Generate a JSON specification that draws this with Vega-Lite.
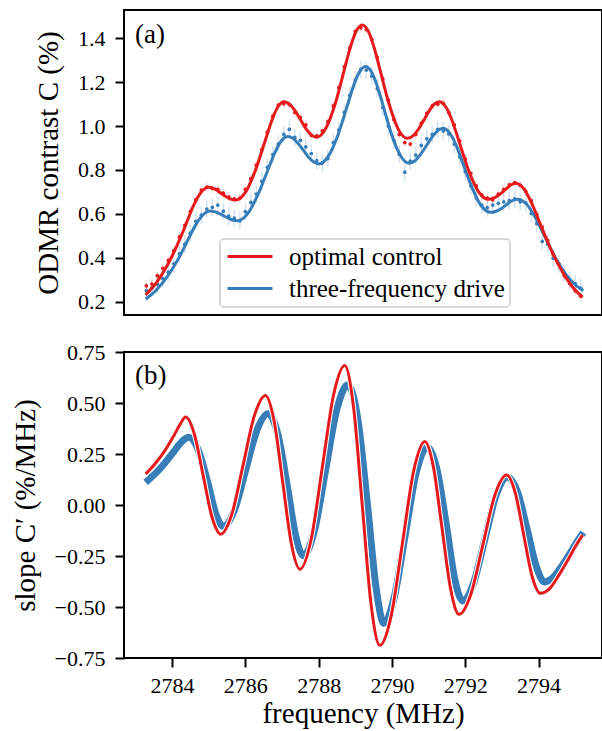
{
  "$schema": "https://vega.github.io/schema/vega-lite/v6.json",
  "padding": {"left": 10, "top": 9, "right": 1, "bottom": 0},
  "spacing": 24,
  "config": {
    "view": {"stroke": "black", "strokeWidth": 2},
    "axis": {"domain": false, "grid": false, "labelFont": "Liberation Serif", "labelFontSize": 22, "labelColor": "black", "titleFont": "Liberation Serif", "titleFontSize": 29, "titleFontWeight": "normal", "titleColor": "black", "tickColor": "black", "tickWidth": 2, "tickSize": 9, "labelPadding": 10},
    "legend": {"labelFont": "Liberation Serif", "labelFontSize": 25, "labelColor": "black", "strokeWidth": 1.5, "labelLimit": 0}
  },
  "datasets": {
    "fit": [
      {"f":2783.28,"C":0.231,"series":"optimal control"},{"f":2783.58,"C":0.288,"series":"optimal control"},{"f":2783.88,"C":0.368,"series":"optimal control"},{"f":2784.18,"C":0.472,"series":"optimal control"},{"f":2784.37,"C":0.548,"series":"optimal control"},{"f":2784.58,"C":0.635,"series":"optimal control"},{"f":2784.79,"C":0.698,"series":"optimal control"},{"f":2785.00,"C":0.721,"series":"optimal control"},{"f":2785.11,"C":0.7175,"series":"optimal control"},{"f":2785.22,"C":0.708,"series":"optimal control"},{"f":2785.33,"C":0.695,"series":"optimal control"},{"f":2785.47,"C":0.679,"series":"optimal control"},{"f":2785.60,"C":0.667,"series":"optimal control"},{"f":2785.74,"C":0.663,"series":"optimal control"},{"f":2786.01,"C":0.700,"series":"optimal control"},{"f":2786.28,"C":0.8005,"series":"optimal control"},{"f":2786.55,"C":0.938,"series":"optimal control"},{"f":2786.72,"C":1.0245,"series":"optimal control"},{"f":2786.89,"C":1.088,"series":"optimal control"},{"f":2787.06,"C":1.111,"series":"optimal control"},{"f":2787.20,"C":1.1005,"series":"optimal control"},{"f":2787.35,"C":1.072,"series":"optimal control"},{"f":2787.49,"C":1.033,"series":"optimal control"},{"f":2787.64,"C":0.991,"series":"optimal control"},{"f":2787.80,"C":0.960,"series":"optimal control"},{"f":2787.95,"C":0.949,"series":"optimal control"},{"f":2788.20,"C":0.991,"series":"optimal control"},{"f":2788.46,"C":1.106,"series":"optimal control"},{"f":2788.71,"C":1.263,"series":"optimal control"},{"f":2788.87,"C":1.362,"series":"optimal control"},{"f":2789.03,"C":1.4345,"series":"optimal control"},{"f":2789.19,"C":1.461,"series":"optimal control"},{"f":2789.35,"C":1.434,"series":"optimal control"},{"f":2789.51,"C":1.360,"series":"optimal control"},{"f":2789.67,"C":1.259,"series":"optimal control"},{"f":2789.92,"C":1.1015,"series":"optimal control"},{"f":2790.17,"C":0.986,"series":"optimal control"},{"f":2790.42,"C":0.944,"series":"optimal control"},{"f":2790.58,"C":0.956,"series":"optimal control"},{"f":2790.74,"C":0.990,"series":"optimal control"},{"f":2790.90,"C":1.036,"series":"optimal control"},{"f":2791.03,"C":1.0735,"series":"optimal control"},{"f":2791.16,"C":1.101,"series":"optimal control"},{"f":2791.29,"C":1.111,"series":"optimal control"},{"f":2791.47,"C":1.087,"series":"optimal control"},{"f":2791.65,"C":1.021,"series":"optimal control"},{"f":2791.83,"C":0.930,"series":"optimal control"},{"f":2792.09,"C":0.798,"series":"optimal control"},{"f":2792.36,"C":0.701,"series":"optimal control"},{"f":2792.62,"C":0.666,"series":"optimal control"},{"f":2792.79,"C":0.673,"series":"optimal control"},{"f":2792.96,"C":0.691,"series":"optimal control"},{"f":2793.13,"C":0.716,"series":"optimal control"},{"f":2793.21,"C":0.7275,"series":"optimal control"},{"f":2793.29,"C":0.736,"series":"optimal control"},{"f":2793.37,"C":0.739,"series":"optimal control"},{"f":2793.60,"C":0.714,"series":"optimal control"},{"f":2793.82,"C":0.645,"series":"optimal control"},{"f":2794.05,"C":0.5515,"series":"optimal control"},{"f":2794.35,"C":0.433,"series":"optimal control"},{"f":2794.65,"C":0.336,"series":"optimal control"},{"f":2794.95,"C":0.262,"series":"optimal control"},{"f":2795.20,"C":0.220,"series":"optimal control"},
      {"f":2783.28,"C":0.211,"series":"three-frequency drive"},{"f":2783.58,"C":0.254,"series":"three-frequency drive"},{"f":2783.88,"C":0.316,"series":"three-frequency drive"},{"f":2784.18,"C":0.397,"series":"three-frequency drive"},{"f":2784.46,"C":0.490,"series":"three-frequency drive"},{"f":2784.65,"C":0.551,"series":"three-frequency drive"},{"f":2784.85,"C":0.596,"series":"three-frequency drive"},{"f":2785.04,"C":0.613,"series":"three-frequency drive"},{"f":2785.16,"C":0.610,"series":"three-frequency drive"},{"f":2785.28,"C":0.602,"series":"three-frequency drive"},{"f":2785.40,"C":0.592,"series":"three-frequency drive"},{"f":2785.53,"C":0.581,"series":"three-frequency drive"},{"f":2785.65,"C":0.572,"series":"three-frequency drive"},{"f":2785.78,"C":0.569,"series":"three-frequency drive"},{"f":2786.06,"C":0.600,"series":"three-frequency drive"},{"f":2786.34,"C":0.686,"series":"three-frequency drive"},{"f":2786.62,"C":0.802,"series":"three-frequency drive"},{"f":2786.80,"C":0.877,"series":"three-frequency drive"},{"f":2786.98,"C":0.932,"series":"three-frequency drive"},{"f":2787.16,"C":0.952,"series":"three-frequency drive"},{"f":2787.30,"C":0.944,"series":"three-frequency drive"},{"f":2787.44,"C":0.921,"series":"three-frequency drive"},{"f":2787.58,"C":0.8905,"series":"three-frequency drive"},{"f":2787.72,"C":0.859,"series":"three-frequency drive"},{"f":2787.87,"C":0.836,"series":"three-frequency drive"},{"f":2788.01,"C":0.8275,"series":"three-frequency drive"},{"f":2788.27,"C":0.8645,"series":"three-frequency drive"},{"f":2788.54,"C":0.9655,"series":"three-frequency drive"},{"f":2788.80,"C":1.103,"series":"three-frequency drive"},{"f":2788.96,"C":1.187,"series":"three-frequency drive"},{"f":2789.12,"C":1.248,"series":"three-frequency drive"},{"f":2789.28,"C":1.271,"series":"three-frequency drive"},{"f":2789.44,"C":1.247,"series":"three-frequency drive"},{"f":2789.60,"C":1.1815,"series":"three-frequency drive"},{"f":2789.76,"C":1.092,"series":"three-frequency drive"},{"f":2789.99,"C":0.9615,"series":"three-frequency drive"},{"f":2790.23,"C":0.866,"series":"three-frequency drive"},{"f":2790.46,"C":0.831,"series":"three-frequency drive"},{"f":2790.63,"C":0.842,"series":"three-frequency drive"},{"f":2790.79,"C":0.873,"series":"three-frequency drive"},{"f":2790.96,"C":0.916,"series":"three-frequency drive"},{"f":2791.11,"C":0.953,"series":"three-frequency drive"},{"f":2791.25,"C":0.980,"series":"three-frequency drive"},{"f":2791.40,"C":0.990,"series":"three-frequency drive"},{"f":2791.57,"C":0.969,"series":"three-frequency drive"},{"f":2791.75,"C":0.913,"series":"three-frequency drive"},{"f":2791.92,"C":0.836,"series":"three-frequency drive"},{"f":2792.18,"C":0.722,"series":"three-frequency drive"},{"f":2792.43,"C":0.638,"series":"three-frequency drive"},{"f":2792.69,"C":0.607,"series":"three-frequency drive"},{"f":2792.84,"C":0.612,"series":"three-frequency drive"},{"f":2793.00,"C":0.626,"series":"three-frequency drive"},{"f":2793.15,"C":0.645,"series":"three-frequency drive"},{"f":2793.24,"C":0.656,"series":"three-frequency drive"},{"f":2793.33,"C":0.664,"series":"three-frequency drive"},{"f":2793.42,"C":0.667,"series":"three-frequency drive"},{"f":2793.67,"C":0.645,"series":"three-frequency drive"},{"f":2793.91,"C":0.5835,"series":"three-frequency drive"},{"f":2794.16,"C":0.500,"series":"three-frequency drive"},{"f":2794.46,"C":0.399,"series":"three-frequency drive"},{"f":2794.76,"C":0.321,"series":"three-frequency drive"},{"f":2795.06,"C":0.268,"series":"three-frequency drive"},{"f":2795.22,"C":0.250,"series":"three-frequency drive"}
    ],
    "dotsR": [
      {"f":2783.30,"C":0.272,"e":0.02},{"f":2783.45,"C":0.280,"e":0.02},{"f":2783.60,"C":0.318,"e":0.02},{"f":2783.75,"C":0.352,"e":0.02},{"f":2783.90,"C":0.388,"e":0.02},{"f":2784.05,"C":0.432,"e":0.02},{"f":2784.20,"C":0.495,"e":0.02},{"f":2784.35,"C":0.548,"e":0.02},{"f":2784.50,"C":0.610,"e":0.02},{"f":2784.65,"C":0.665,"e":0.02},{"f":2784.80,"C":0.708,"e":0.02},{"f":2784.95,"C":0.722,"e":0.02},{"f":2785.10,"C":0.716,"e":0.02},{"f":2785.25,"C":0.712,"e":0.02},{"f":2785.40,"C":0.695,"e":0.02},{"f":2785.55,"C":0.676,"e":0.02},{"f":2785.70,"C":0.668,"e":0.02},{"f":2785.85,"C":0.672,"e":0.02},{"f":2786.00,"C":0.712,"e":0.02},{"f":2786.15,"C":0.760,"e":0.02},{"f":2786.30,"C":0.822,"e":0.02},{"f":2786.45,"C":0.893,"e":0.02},{"f":2786.60,"C":0.972,"e":0.02},{"f":2786.75,"C":1.045,"e":0.02},{"f":2786.90,"C":1.096,"e":0.02},{"f":2787.05,"C":1.102,"e":0.02},{"f":2787.20,"C":1.098,"e":0.02},{"f":2787.35,"C":1.062,"e":0.02},{"f":2787.50,"C":1.040,"e":0.02},{"f":2787.65,"C":1.005,"e":0.02},{"f":2787.80,"C":0.958,"e":0.02},{"f":2787.95,"C":0.955,"e":0.02},{"f":2788.10,"C":0.978,"e":0.02},{"f":2788.25,"C":1.020,"e":0.02},{"f":2788.40,"C":1.092,"e":0.02},{"f":2788.55,"C":1.175,"e":0.02},{"f":2788.70,"C":1.270,"e":0.02},{"f":2788.85,"C":1.356,"e":0.02},{"f":2789.00,"C":1.432,"e":0.02},{"f":2789.15,"C":1.448,"e":0.02},{"f":2789.30,"C":1.440,"e":0.02},{"f":2789.45,"C":1.395,"e":0.02},{"f":2789.60,"C":1.312,"e":0.02},{"f":2789.75,"C":1.215,"e":0.02},{"f":2789.90,"C":1.118,"e":0.02},{"f":2790.05,"C":1.030,"e":0.02},{"f":2790.20,"C":0.962,"e":0.02},{"f":2790.35,"C":0.925,"e":0.02},{"f":2790.50,"C":0.918,"e":0.02},{"f":2790.65,"C":0.962,"e":0.02},{"f":2790.80,"C":1.012,"e":0.02},{"f":2790.95,"C":1.058,"e":0.02},{"f":2791.10,"C":1.092,"e":0.02},{"f":2791.25,"C":1.100,"e":0.02},{"f":2791.40,"C":1.104,"e":0.02},{"f":2791.55,"C":1.062,"e":0.02},{"f":2791.70,"C":1.005,"e":0.02},{"f":2791.85,"C":0.932,"e":0.02},{"f":2792.00,"C":0.850,"e":0.02},{"f":2792.15,"C":0.785,"e":0.02},{"f":2792.30,"C":0.728,"e":0.02},{"f":2792.45,"C":0.686,"e":0.02},{"f":2792.60,"C":0.672,"e":0.02},{"f":2792.75,"C":0.664,"e":0.02},{"f":2792.90,"C":0.690,"e":0.02},{"f":2793.05,"C":0.712,"e":0.02},{"f":2793.20,"C":0.732,"e":0.02},{"f":2793.35,"C":0.742,"e":0.02},{"f":2793.50,"C":0.730,"e":0.02},{"f":2793.65,"C":0.702,"e":0.02},{"f":2793.80,"C":0.660,"e":0.02},{"f":2793.95,"C":0.598,"e":0.02},{"f":2794.10,"C":0.540,"e":0.02},{"f":2794.25,"C":0.478,"e":0.02},{"f":2794.40,"C":0.415,"e":0.02},{"f":2794.55,"C":0.372,"e":0.02},{"f":2794.70,"C":0.318,"e":0.02},{"f":2794.85,"C":0.282,"e":0.02},{"f":2795.00,"C":0.250,"e":0.02},{"f":2795.15,"C":0.225,"e":0.02}
    ],
    "dotsB": [
      {"f":2783.30,"C":0.250,"e":0.04},{"f":2783.45,"C":0.262,"e":0.04},{"f":2783.60,"C":0.280,"e":0.04},{"f":2783.75,"C":0.305,"e":0.04},{"f":2783.90,"C":0.334,"e":0.04},{"f":2784.05,"C":0.372,"e":0.04},{"f":2784.20,"C":0.418,"e":0.04},{"f":2784.35,"C":0.462,"e":0.04},{"f":2784.50,"C":0.512,"e":0.04},{"f":2784.65,"C":0.566,"e":0.04},{"f":2784.80,"C":0.594,"e":0.04},{"f":2784.95,"C":0.622,"e":0.04},{"f":2785.10,"C":0.630,"e":0.04},{"f":2785.25,"C":0.640,"e":0.04},{"f":2785.40,"C":0.612,"e":0.04},{"f":2785.55,"C":0.590,"e":0.04},{"f":2785.70,"C":0.580,"e":0.04},{"f":2785.85,"C":0.568,"e":0.04},{"f":2786.00,"C":0.610,"e":0.04},{"f":2786.15,"C":0.652,"e":0.04},{"f":2786.30,"C":0.690,"e":0.04},{"f":2786.45,"C":0.748,"e":0.04},{"f":2786.60,"C":0.812,"e":0.04},{"f":2786.75,"C":0.870,"e":0.04},{"f":2786.90,"C":0.918,"e":0.04},{"f":2787.05,"C":0.962,"e":0.04},{"f":2787.20,"C":0.985,"e":0.04},{"f":2787.35,"C":0.948,"e":0.04},{"f":2787.50,"C":0.935,"e":0.04},{"f":2787.65,"C":0.905,"e":0.04},{"f":2787.80,"C":0.875,"e":0.04},{"f":2787.95,"C":0.842,"e":0.04},{"f":2788.10,"C":0.832,"e":0.04},{"f":2788.25,"C":0.852,"e":0.04},{"f":2788.40,"C":0.925,"e":0.04},{"f":2788.55,"C":0.982,"e":0.04},{"f":2788.70,"C":1.062,"e":0.04},{"f":2788.85,"C":1.140,"e":0.04},{"f":2789.00,"C":1.210,"e":0.04},{"f":2789.15,"C":1.258,"e":0.04},{"f":2789.30,"C":1.255,"e":0.04},{"f":2789.45,"C":1.228,"e":0.04},{"f":2789.60,"C":1.170,"e":0.04},{"f":2789.75,"C":1.085,"e":0.04},{"f":2789.90,"C":1.000,"e":0.04},{"f":2790.05,"C":0.935,"e":0.04},{"f":2790.20,"C":0.872,"e":0.04},{"f":2790.35,"C":0.790,"e":0.04},{"f":2790.50,"C":0.840,"e":0.04},{"f":2790.65,"C":0.868,"e":0.04},{"f":2790.80,"C":0.912,"e":0.04},{"f":2790.95,"C":0.942,"e":0.04},{"f":2791.10,"C":0.962,"e":0.04},{"f":2791.25,"C":0.985,"e":0.04},{"f":2791.40,"C":0.978,"e":0.04},{"f":2791.55,"C":0.965,"e":0.04},{"f":2791.70,"C":0.918,"e":0.04},{"f":2791.85,"C":0.860,"e":0.04},{"f":2792.00,"C":0.792,"e":0.04},{"f":2792.15,"C":0.728,"e":0.04},{"f":2792.30,"C":0.672,"e":0.04},{"f":2792.45,"C":0.640,"e":0.04},{"f":2792.60,"C":0.628,"e":0.04},{"f":2792.75,"C":0.640,"e":0.04},{"f":2792.90,"C":0.648,"e":0.04},{"f":2793.05,"C":0.655,"e":0.04},{"f":2793.20,"C":0.660,"e":0.04},{"f":2793.35,"C":0.668,"e":0.04},{"f":2793.50,"C":0.655,"e":0.04},{"f":2793.65,"C":0.650,"e":0.04},{"f":2793.80,"C":0.602,"e":0.04},{"f":2793.95,"C":0.555,"e":0.04},{"f":2794.10,"C":0.474,"e":0.04},{"f":2794.25,"C":0.462,"e":0.04},{"f":2794.40,"C":0.398,"e":0.04},{"f":2794.55,"C":0.372,"e":0.04},{"f":2794.70,"C":0.330,"e":0.04},{"f":2794.85,"C":0.298,"e":0.04},{"f":2795.00,"C":0.282,"e":0.04},{"f":2795.15,"C":0.262,"e":0.04}
    ],
    "slopeR": [
      {"f":2783.28,"s":0.152},{"f":2783.55,"s":0.205},{"f":2783.80,"s":0.265},{"f":2784.05,"s":0.340},{"f":2784.22,"s":0.395},{"f":2784.37,"s":0.431},{"f":2784.61,"s":0.347},{"f":2784.85,"s":0.144},{"f":2785.09,"s":-0.059},{"f":2785.33,"s":-0.143},{"f":2785.635,"s":-0.043},{"f":2785.94,"s":0.197},{"f":2786.245,"s":0.437},{"f":2786.55,"s":0.537},{"f":2786.785,"s":0.412},{"f":2787.02,"s":0.111},{"f":2787.255,"s":-0.190},{"f":2787.49,"s":-0.315},{"f":2787.795,"s":-0.169},{"f":2788.10,"s":0.185},{"f":2788.405,"s":0.538},{"f":2788.71,"s":0.684},{"f":2788.95,"s":0.483},{"f":2789.19,"s":-0.002},{"f":2789.43,"s":-0.487},{"f":2789.67,"s":-0.688},{"f":2789.98,"s":-0.542},{"f":2790.285,"s":-0.189},{"f":2790.59,"s":0.165},{"f":2790.90,"s":0.311},{"f":2791.13,"s":0.187},{"f":2791.365,"s":-0.113},{"f":2791.60,"s":-0.412},{"f":2791.83,"s":-0.536},{"f":2792.155,"s":-0.436},{"f":2792.48,"s":-0.195},{"f":2792.805,"s":0.047},{"f":2793.13,"s":0.147},{"f":2793.36,"s":0.062},{"f":2793.59,"s":-0.143},{"f":2793.82,"s":-0.348},{"f":2794.05,"s":-0.433},{"f":2794.30,"s":-0.410},{"f":2794.55,"s":-0.345},{"f":2794.80,"s":-0.270},{"f":2795.00,"s":-0.205},{"f":2795.20,"s":-0.148}
    ],
    "slopeB": [
      {"f":2783.28,"s":0.111},{"f":2783.55,"s":0.155},{"f":2783.80,"s":0.205},{"f":2784.05,"s":0.262},{"f":2784.25,"s":0.308},{"f":2784.46,"s":0.332},{"f":2784.72,"s":0.268},{"f":2784.97,"s":0.114},{"f":2785.19,"s":-0.041},{"f":2785.40,"s":-0.105},{"f":2785.705,"s":-0.024},{"f":2786.01,"s":0.171},{"f":2786.315,"s":0.366},{"f":2786.62,"s":0.447},{"f":2786.89,"s":0.345},{"f":2787.14,"s":0.099},{"f":2787.37,"s":-0.147},{"f":2787.58,"s":-0.249},{"f":2787.885,"s":-0.126},{"f":2788.19,"s":0.171},{"f":2788.495,"s":0.467},{"f":2788.80,"s":0.590},{"f":2789.07,"s":0.419},{"f":2789.33,"s":0.005},{"f":2789.57,"s":-0.409},{"f":2789.78,"s":-0.580},{"f":2790.06,"s":-0.454},{"f":2790.36,"s":-0.149},{"f":2790.66,"s":0.157},{"f":2790.96,"s":0.283},{"f":2791.23,"s":0.173},{"f":2791.48,"s":-0.094},{"f":2791.71,"s":-0.360},{"f":2791.93,"s":-0.470},{"f":2792.23,"s":-0.381},{"f":2792.535,"s":-0.167},{"f":2792.84,"s":0.047},{"f":2793.15,"s":0.136},{"f":2793.43,"s":0.061},{"f":2793.69,"s":-0.121},{"f":2793.94,"s":-0.302},{"f":2794.16,"s":-0.377},{"f":2794.40,"s":-0.355},{"f":2794.65,"s":-0.295},{"f":2794.90,"s":-0.225},{"f":2795.05,"s":-0.180},{"f":2795.22,"s":-0.135}
    ]
  },
  "vconcat": [
    {
      "width": 478,
      "height": 305,
      "encoding": {
        "x": {"field": "f", "type": "quantitative", "scale": {"domain": [2782.69, 2795.73], "nice": false, "zero": false}, "axis": null},
        "y": {"field": "C", "type": "quantitative", "scale": {"domain": [0.139, 1.529], "nice": false, "zero": false}, "axis": {"title": "ODMR contrast C (%)", "values": [0.2, 0.4, 0.6, 0.8, 1.0, 1.2, 1.4], "format": ".1f", "titlePadding": 14, "labelFlush": false}}
      },
      "layer": [
        {"data": {"name": "dotsB"}, "mark": {"type": "errorbar", "ticks": false, "thickness": 1.5, "color": "#377eb8", "opacity": 0.22}, "encoding": {"yError": {"field": "e"}}},
        {"data": {"name": "dotsR"}, "mark": {"type": "errorbar", "ticks": false, "thickness": 1.5, "color": "#e41a1c", "opacity": 0.15}, "encoding": {"yError": {"field": "e"}}},
        {"data": {"name": "dotsB"}, "mark": {"type": "circle", "size": 14, "color": "#377eb8", "opacity": 1}},
        {"data": {"name": "dotsR"}, "mark": {"type": "circle", "size": 14, "color": "#e41a1c", "opacity": 1}},
        {"data": {"name": "fit"}, "transform": [{"filter": "datum.series === 'three-frequency drive'"}], "mark": {"type": "line", "strokeWidth": 3, "interpolate": "monotone"},
          "encoding": {"color": {"field": "series", "type": "nominal", "scale": {"domain": ["optimal control", "three-frequency drive"], "range": ["#e41a1c", "#377eb8"]},
            "legend": {"title": null, "orient": "none", "legendX": 96, "legendY": 229, "symbolType": "M-1,0H3.5", "symbolSize": 400, "symbolStrokeWidth": 3, "labelOffset": 39, "padding": 5, "rowPadding": 6, "fillColor": "rgba(255,255,255,0.8)", "strokeColor": "#cccccc", "cornerRadius": 4}}}},
        {"data": {"name": "fit"}, "transform": [{"filter": "datum.series === 'optimal control'"}], "mark": {"type": "line", "strokeWidth": 3, "interpolate": "monotone"},
          "encoding": {"color": {"field": "series", "type": "nominal", "scale": {"domain": ["optimal control", "three-frequency drive"], "range": ["#e41a1c", "#377eb8"]},
            "legend": {"title": null, "orient": "none", "legendX": 96, "legendY": 229, "symbolType": "M-1,0H3.5", "symbolSize": 400, "symbolStrokeWidth": 3, "labelOffset": 39, "padding": 5, "rowPadding": 6, "fillColor": "rgba(255,255,255,0.8)", "strokeColor": "#cccccc", "cornerRadius": 4}}}},
        {"data": {"values": [{"f": 2782.99, "C": 1.415, "t": "(a)"}]}, "mark": {"type": "text", "align": "left", "baseline": "middle", "font": "Liberation Serif", "fontSize": 27, "color": "black"},
          "encoding": {"text": {"field": "t"}}}
      ]
    },
    {
      "width": 478,
      "height": 306,
      "encoding": {
        "x": {"field": "f", "type": "quantitative", "scale": {"domain": [2782.69, 2795.73], "nice": false, "zero": false}, "axis": {"title": "frequency (MHz)", "values": [2784, 2786, 2788, 2790, 2792, 2794], "format": "d", "labelPadding": 8, "titlePadding": 3}},
        "y": {"field": "s", "type": "quantitative", "scale": {"domain": [-0.75, 0.75], "nice": false, "zero": false}, "axis": {"title": "slope C′ (%/MHz)", "values": [-0.75, -0.5, -0.25, 0, 0.25, 0.5, 0.75], "format": ".2f", "titlePadding": 14, "labelFlush": false}}
      },
      "layer": [
        {"data": {"name": "slopeB"}, "mark": {"type": "line", "strokeWidth": 7, "color": "#377eb8", "interpolate": "monotone"}},
        {"data": {"name": "slopeR"}, "mark": {"type": "line", "strokeWidth": 5, "color": "white", "interpolate": "monotone"}},
        {"data": {"name": "slopeR"}, "mark": {"type": "line", "strokeWidth": 3, "color": "#e41a1c", "interpolate": "monotone"}},
        {"data": {"values": [{"f": 2782.99, "s": 0.631, "t": "(b)"}]}, "mark": {"type": "text", "align": "left", "baseline": "middle", "font": "Liberation Serif", "fontSize": 27, "color": "black"},
          "encoding": {"text": {"field": "t"}}}
      ]
    }
  ]
}
